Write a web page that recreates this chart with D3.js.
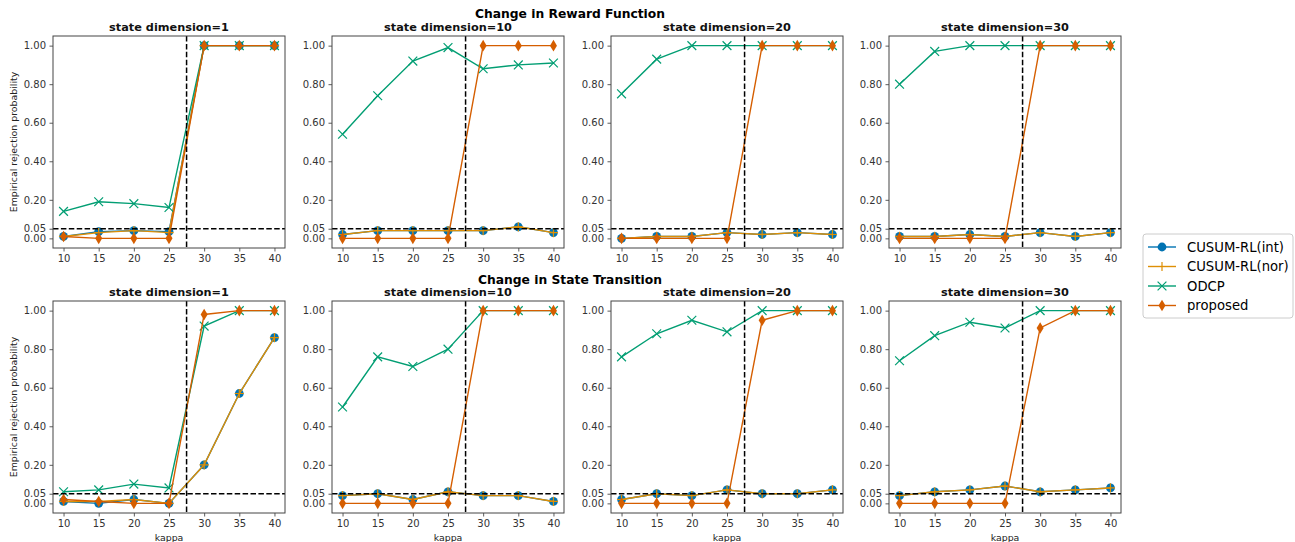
<!DOCTYPE html>
<html>
<head>
<meta charset="utf-8">
<script src="https://cdn.jsdelivr.net/npm/d3@7"></script>
<style>
  body { margin: 0; background: #fff; }
  svg { font-family: "DejaVu Sans", sans-serif; }
</style>
</head>
<body>
<svg id="chart" width="1295" height="542"></svg>
<script>
// ---------- data ----------
const kappa = [10, 15, 20, 25, 30, 35, 40];
const yTicks = [0, 0.05, 0.2, 0.4, 0.6, 0.8, 1.0];
const rowTitles = ["Change in Reward Function", "Change in State Transition"];
const dims = [1, 10, 20, 30];
const seriesNames = ["CUSUM-RL(int)", "CUSUM-RL(nor)", "ODCP", "proposed"];

// Reward function change, per state dimension
const rewardInt = [
  [0.01, 0.035, 0.04, 0.035, 1.0, 1.0, 1.0],
  [0.02, 0.04, 0.04, 0.04, 0.04, 0.06, 0.03],
  [0.0, 0.01, 0.01, 0.03, 0.02, 0.03, 0.02],
  [0.01, 0.01, 0.02, 0.01, 0.03, 0.01, 0.03]
];
const rewardNor = [
  [0.01, 0.03, 0.04, 0.03, 1.0, 1.0, 1.0],
  [0.02, 0.04, 0.04, 0.04, 0.04, 0.06, 0.03],
  [0.0, 0.01, 0.01, 0.03, 0.02, 0.03, 0.02],
  [0.01, 0.01, 0.02, 0.01, 0.03, 0.01, 0.03]
];
const rewardOdcp = [
  [0.14, 0.19, 0.18, 0.16, 1.0, 1.0, 1.0],
  [0.54, 0.74, 0.92, 0.99, 0.88, 0.90, 0.91],
  [0.75, 0.93, 1.0, 1.0, 1.0, 1.0, 1.0],
  [0.80, 0.97, 1.0, 1.0, 1.0, 1.0, 1.0]
];
const rewardProp = [
  [0.01, 0.0, 0.0, 0.0, 1.0, 1.0, 1.0],
  [0.0, 0.0, 0.0, 0.0, 1.0, 1.0, 1.0],
  [0.0, 0.0, 0.0, 0.0, 1.0, 1.0, 1.0],
  [0.0, 0.0, 0.0, 0.0, 1.0, 1.0, 1.0]
];

// State transition change, per state dimension
const transInt = [
  [0.01, 0.0, 0.02, 0.0, 0.20, 0.57, 0.86],
  [0.04, 0.05, 0.02, 0.06, 0.04, 0.04, 0.01],
  [0.02, 0.05, 0.04, 0.07, 0.05, 0.05, 0.07],
  [0.04, 0.06, 0.07, 0.09, 0.06, 0.07, 0.08]
];
const transNor = [
  [0.01, 0.01, 0.02, 0.0, 0.20, 0.57, 0.86],
  [0.04, 0.05, 0.02, 0.06, 0.04, 0.04, 0.01],
  [0.02, 0.05, 0.04, 0.07, 0.05, 0.05, 0.07],
  [0.04, 0.06, 0.07, 0.09, 0.06, 0.07, 0.08]
];
const transOdcp = [
  [0.06, 0.07, 0.10, 0.08, 0.92, 1.0, 1.0],
  [0.50, 0.76, 0.71, 0.80, 1.0, 1.0, 1.0],
  [0.76, 0.88, 0.95, 0.89, 1.0, 1.0, 1.0],
  [0.74, 0.87, 0.94, 0.91, 1.0, 1.0, 1.0]
];
const transProp = [
  [0.02, 0.01, 0.0, 0.0, 0.98, 1.0, 1.0],
  [0.0, 0.0, 0.0, 0.0, 1.0, 1.0, 1.0],
  [0.0, 0.0, 0.0, 0.0, 0.95, 1.0, 1.0],
  [0.0, 0.0, 0.0, 0.0, 0.91, 1.0, 1.0]
];

const changePoint = 27.5;
const alphaLevel = 0.05;

// ---------- styles ----------
const colors = ["#0173b2", "#de8f05", "#029e73", "#d55e00"];
const markers = ["circle", "plus", "x", "diamond"];
const colLeft = [53, 332, 611, 889];
const rowTop = [36, 301];
const pw = 232, ph = 212;

const svg = d3.select("#chart");

const x = d3.scaleLinear().domain([8.5, 41.5]).range([0, pw]);
const y = d3.scaleLinear().domain([-0.05, 1.05]).range([ph, 0]);

function drawMarker(g, type, cx, cy, color) {
  if (type === "circle") {
    g.append("circle").attr("cx", cx).attr("cy", cy).attr("r", 4.4).attr("fill", color);
  } else if (type === "plus") {
    const s = 4.6;
    g.append("path").attr("d", `M${cx - s},${cy}H${cx + s}M${cx},${cy - s}V${cy + s}`)
      .attr("stroke", color).attr("stroke-width", 1.2).attr("fill", "none");
  } else if (type === "x") {
    const s = 4.4;
    g.append("path").attr("d", `M${cx - s},${cy - s}L${cx + s},${cy + s}M${cx - s},${cy + s}L${cx + s},${cy - s}`)
      .attr("stroke", color).attr("stroke-width", 1.2).attr("fill", "none");
  } else if (type === "diamond") {
    const w = 3.5, h = 5.8;
    g.append("path").attr("d", `M${cx},${cy - h}L${cx + w},${cy}L${cx},${cy + h}L${cx - w},${cy}Z`)
      .attr("fill", color);
  }
}

const allData = [
  [rewardInt, rewardNor, rewardOdcp, rewardProp],
  [transInt, transNor, transOdcp, transProp]
];

rowTitles.forEach((title, r) => {
  svg.append("text")
    .attr("x", 570).attr("y", r === 0 ? 18 : 284)
    .attr("text-anchor", "middle")
    .attr("font-size", 12.3).attr("font-weight", "bold").attr("fill", "#000")
    .text(title);

  dims.forEach((dim, c) => {
    const g = svg.append("g").attr("transform", `translate(${colLeft[c]},${rowTop[r]})`);

    g.append("text")
      .attr("x", pw / 2).attr("y", -5)
      .attr("text-anchor", "middle")
      .attr("font-size", 11.3).attr("font-weight", "bold").attr("fill", "#111")
      .text(`state dimension=${dim}`);

    // axes
    const xAxis = g.append("g").attr("transform", `translate(0,${ph})`)
      .call(d3.axisBottom(x).tickValues(kappa).tickSize(3.5).tickPadding(3.5).tickFormat(d3.format("d")));
    const yAxis = g.append("g")
      .call(d3.axisLeft(y).tickValues(yTicks).tickSize(3.5).tickPadding(3.5).tickFormat(d3.format(".2f")));
    [xAxis, yAxis].forEach(a => {
      a.select(".domain").remove();
      a.selectAll("line").attr("stroke", "#333").attr("stroke-width", 0.8);
      a.selectAll("text").attr("font-size", 10).attr("fill", "#333").attr("font-family", "DejaVu Sans");
    });

    const clip = `clip-${r}-${c}`;
    g.append("clipPath").attr("id", clip).append("rect").attr("width", pw).attr("height", ph);
    const plot = g.append("g").attr("clip-path", `url(#${clip})`);

    const line = d3.line().x((d, i) => x(kappa[i])).y(d => y(d));

    allData[r].forEach((series, s) => {
      const vals = series[c];
      plot.append("path").datum(vals)
        .attr("d", line).attr("fill", "none")
        .attr("stroke", colors[s]).attr("stroke-width", 1.4);
      const mg = plot.append("g");
      vals.forEach((v, i) => drawMarker(mg, markers[s], x(kappa[i]), y(v), colors[s]));
    });

    // reference dashed lines
    plot.append("line")
      .attr("x1", x(changePoint)).attr("x2", x(changePoint))
      .attr("y1", 0).attr("y2", ph)
      .attr("stroke", "#000").attr("stroke-width", 1.5).attr("stroke-dasharray", "5.5,2.4");
    plot.append("line")
      .attr("x1", 0).attr("x2", pw)
      .attr("y1", y(alphaLevel)).attr("y2", y(alphaLevel))
      .attr("stroke", "#000").attr("stroke-width", 1.5).attr("stroke-dasharray", "5.5,2.4");

    // frame
    g.append("rect").attr("width", pw).attr("height", ph)
      .attr("fill", "none").attr("stroke", "#444").attr("stroke-width", 1);

    if (c === 0) {
      g.append("text")
        .attr("transform", `translate(-36,${ph / 2}) rotate(-90)`)
        .attr("text-anchor", "middle")
        .attr("font-size", 9.4).attr("fill", "#222")
        .text("Empirical rejection probability");
    }
    if (r === 1) {
      g.append("text")
        .attr("x", pw / 2).attr("y", ph + 28)
        .attr("text-anchor", "middle")
        .attr("font-size", 9.4).attr("fill", "#222")
        .text("kappa");
    }
  });
});

// ---------- legend ----------
const lg = svg.append("g").attr("transform", "translate(1143,234)");
lg.append("rect").attr("width", 150).attr("height", 84).attr("rx", 3)
  .attr("fill", "#fff").attr("stroke", "#ccc").attr("stroke-width", 1);
seriesNames.forEach((name, i) => {
  const cy = 13 + i * 19.5;
  lg.append("line").attr("x1", 5).attr("x2", 33).attr("y1", cy).attr("y2", cy)
    .attr("stroke", colors[i]).attr("stroke-width", 1.4);
  drawMarker(lg, markers[i], 19, cy, colors[i]);
  lg.append("text").attr("x", 44).attr("y", cy + 4.5)
    .attr("font-size", 13.2).attr("fill", "#000")
    .text(name);
});
</script>
</body>
</html>
